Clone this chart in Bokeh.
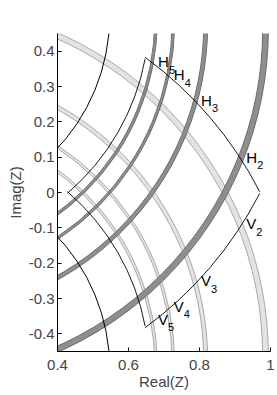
import numpy as np
from bokeh.plotting import figure
from bokeh.models import FixedTicker, ColumnDataSource
from bokeh.core.properties import value
from bokeh.embed import file_html
from bokeh.resources import INLINE

# ---------------- data ----------------
mode_numbers = ["2", "3", "4", "5"]
band_center_offset = [0.462, 0.475, 0.480, 0.489]   # |Imag| of circle centres
band_radius = [0.986, 0.8175, 0.7264, 0.6777]
band_width = [0.016, 0.011, 0.007, 0.007]

limit_center_offset = 0.5
limit_radius = 0.547

fan_center_offset = 0.5
fan_radius_inner = 0.658
fan_radius_outer = 1.091

x_ticks = [0.4, 0.6, 0.8, 1.0]
x_tick_labels = ["0.4", "0.6", "0.8", "1"]
y_ticks = [-0.4, -0.3, -0.2, -0.1, 0.0, 0.1, 0.2, 0.3, 0.4]
y_tick_labels = ["-0.4", "-0.3", "-0.2", "-0.1", "0", "0.1", "0.2", "0.3", "0.4"]
h_letter = "H"
v_letter = "V"

FONT = "Liberation Sans"
LIGHT_FILL, LIGHT_LINE = "#e3e3e3", "#a9a9a9"
DARK_FILL, DARK_LINE = "#8e8e8e", "#6c6c6c"

p = figure(width=277, height=395, x_range=(0.4, 1.0), y_range=(-0.45, 0.45),
           output_backend="svg", toolbar_location=None,
           min_border_left=57, min_border_right=7, min_border_top=33, min_border_bottom=44)
p.grid.visible = False
p.outline_line_color = None
p.background_fill_color = "white"

cy = np.array(band_center_offset)
r = np.array(band_radius)
w = np.array(band_width)
half = np.pi / 2

# light (V) family: centres below the real axis
light = ColumnDataSource(dict(x=np.zeros(4), y=-cy, ri=r - w / 2, ro=r + w / 2))
p.annular_wedge(x="x", y="y", inner_radius="ri", outer_radius="ro",
                start_angle=-half, end_angle=half, source=light,
                fill_color=LIGHT_FILL, line_color=LIGHT_LINE, line_width=1)
# dark (H) family: centres above the real axis
dark = ColumnDataSource(dict(x=np.zeros(4), y=cy, ri=r - w / 2, ro=r + w / 2))
p.annular_wedge(x="x", y="y", inner_radius="ri", outer_radius="ro",
                start_angle=-half, end_angle=half, source=dark,
                fill_color=DARK_FILL, line_color=DARK_LINE, line_width=1)

# black limiting circles
p.arc(x=[0, 0], y=[limit_center_offset, -limit_center_offset],
      radius=[limit_radius, limit_radius], start_angle=-half, end_angle=half,
      line_color="black", line_width=1)

# fan (curvilinear quadrilateral)
c = fan_center_offset
ri, ro = fan_radius_inner, fan_radius_outer
xa = np.sqrt(ri**2 - c**2)
xr = np.sqrt(ro**2 - c**2)
yu = (ro**2 - ri**2) / (4 * c)
xu = np.sqrt(ri**2 - (yu - c)**2)
fan = dict(
    x=[0, 0, 0, 0],
    y=[c, -c, c, -c],
    radius=[ri, ro, ro, ri],
    start=[np.arctan2(-c, xa), np.arctan2(c, xr), np.arctan2(-yu - c, xu), np.arctan2(c - yu, xu)],
    end=[np.arctan2(yu - c, xu), np.arctan2(yu + c, xu), np.arctan2(-c, xr), np.arctan2(c, xa)],
)
p.arc(x="x", y="y", radius="radius", start_angle="start", end_angle="end",
      source=ColumnDataSource(fan), line_color="black", line_width=0.9)

# label anchors: crossings of each band with the fan's outer edges
yh = (ro**2 - r**2 - c**2 + cy**2) / (2 * (c + cy))
xh = np.sqrt(r**2 - (yh - cy)**2)
lab_h = ColumnDataSource(dict(x=xh, y=yh, t=[h_letter] * 4, s=mode_numbers))
lab_v = ColumnDataSource(dict(x=xh, y=-yh, t=[v_letter] * 4, s=mode_numbers))
for src, sub_dx in ((lab_h, 17), (lab_v, 16)):
    p.text(x="x", y="y", text="t", source=src, x_offset=6, y_offset=-2,
           text_align="left", text_baseline="middle",
           text_font=value(FONT), text_font_size="15px", text_color="black")
    p.text(x="x", y="y", text="s", source=src, x_offset=sub_dx, y_offset=6,
           text_align="left", text_baseline="middle",
           text_font=value(FONT), text_font_size="11px", text_color="black")

# axes
p.xaxis.ticker = FixedTicker(ticks=x_ticks)
p.yaxis.ticker = FixedTicker(ticks=y_ticks)
p.xaxis.major_label_overrides = dict(zip(x_ticks, x_tick_labels))
p.yaxis.major_label_overrides = dict(zip(y_ticks, y_tick_labels))
p.xaxis.axis_label = "Real(Z)"
p.yaxis.axis_label = "Imag(Z)"
for ax in (p.xaxis, p.yaxis):
    ax.axis_label_text_font = FONT
    ax.axis_label_text_font_style = "normal"
    ax.axis_label_text_font_size = "15px"
    ax.major_label_text_font = FONT
    ax.major_label_text_font_size = "15px"
    ax.major_tick_in = 4
    ax.major_tick_out = 0
    ax.minor_tick_in = 0
    ax.minor_tick_out = 0
    ax.axis_line_color = "black"
    ax.major_tick_line_color = "black"
p.yaxis.major_label_standoff = 3
p.yaxis.axis_label_standoff = 2
p.xaxis.major_label_standoff = 8
p.xaxis.axis_label_standoff = 0

open("out.html", "w").write(file_html(p, INLINE))
